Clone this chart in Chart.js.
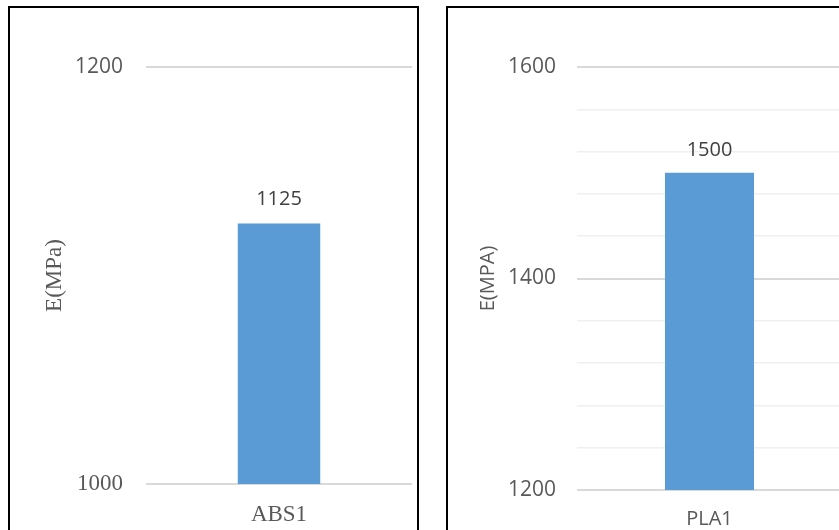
<!DOCTYPE html>
<html>
<head>
<meta charset="utf-8">
<script src="https://cdn.jsdelivr.net/npm/chart.js@4/dist/chart.umd.min.js"></script>
<style>
  html, body { margin: 0; padding: 0; background: #fff; width: 839px; height: 530px; overflow: hidden; }
  .panel { position: absolute; top: 6px; height: 600px; border: 2px solid #000; overflow: hidden; background: #fff; }
  #p1 { left: 8px; width: 407px; }
  #p2 { left: 446px; width: 500px; }
  canvas { position: absolute; left: 0; top: 0; }
</style>
</head>
<body>
<div class="panel" id="p1"><canvas id="absChart" width="407" height="522"></canvas></div>
<div class="panel" id="p2"><canvas id="plaChart" width="400" height="522"></canvas></div>
<script>
// ABS panel
const absLabels = ['ABS1'];
const absValues = [1125];
const absTicks = [1000, 1200];

// PLA panel
const plaLabels = ['PLA1'];
const plaValues = [1500];
const plaTicks = [1200, 1400, 1600];

const sans = 'Open Sans';
const serif = 'Liberation Serif';
const textGrey = '#595959';

// value labels above the bars
const barValues = {
    id: 'barValues',
    afterDatasetsDraw(chart, args, opts) {
        const ctx = chart.ctx;
        ctx.save();
        ctx.font = '20px "' + sans + '"';
        ctx.fillStyle = '#404040';
        ctx.textAlign = 'center';
        ctx.textBaseline = 'middle';
        chart.getDatasetMeta(0).data.forEach((bar, i) => {
            ctx.fillText(String(chart.data.datasets[0].data[i]), bar.x, bar.y - opts.offset);
        });
        ctx.restore();
    }
};

new Chart(document.getElementById('absChart'), {
    type: 'bar',
    data: {
        labels: absLabels,
        datasets: [{ data: absValues, backgroundColor: '#5B9BD5', barPercentage: 0.31, categoryPercentage: 1 }]
    },
    options: {
        responsive: false,
        animation: false,
        layout: { padding: { top: 59, right: 5, bottom: 0, left: 0 } },
        plugins: { legend: { display: false }, tooltip: { enabled: false }, barValues: { offset: 24 } },
        scales: {
            x: {
                grid: { display: false },
                border: { display: false },
                ticks: { color: textGrey, font: { family: serif, size: 23 }, padding: 9 },
                afterFit: s => { s.height = 46; }
            },
            y: {
                min: absTicks[0],
                max: absTicks[absTicks.length - 1],
                afterBuildTicks: s => { s.ticks = absTicks.map(v => ({ value: v })); },
                grid: { color: '#D9D9D9', lineWidth: 2, drawTicks: false },
                border: { display: false },
                ticks: {
                    color: textGrey,
                    padding: 23,
                    callback: v => String(v),
                    font: c => c.index === 0 ? { family: serif, size: 23 } : { family: sans, size: 21 }
                },
                title: { display: true, text: 'E(MPa)', color: textGrey, font: { family: serif, size: 23 }, padding: { top: 31 } },
                afterFit: s => { s.width = 136; }
            }
        }
    },
    plugins: [barValues]
});

new Chart(document.getElementById('plaChart'), {
    type: 'bar',
    data: {
        labels: plaLabels,
        datasets: [{ data: plaValues, backgroundColor: '#5B9BD5', barPercentage: 0.336, categoryPercentage: 1 }]
    },
    options: {
        responsive: false,
        animation: false,
        layout: { padding: { top: 59, right: 6, bottom: 0, left: 0 } },
        plugins: { legend: { display: false }, tooltip: { enabled: false }, barValues: { offset: 22 } },
        scales: {
            x: {
                grid: { display: false },
                border: { display: false },
                ticks: { color: textGrey, font: { family: sans, size: 20 }, padding: 9 },
                afterFit: s => { s.height = 40; }
            },
            y: {
                min: plaTicks[0],
                max: plaTicks[plaTicks.length - 1],
                ticks: {
                    stepSize: 40,
                    autoSkip: false,
                    color: textGrey,
                    padding: 21,
                    font: { family: sans, size: 21 },
                    callback: v => plaTicks.includes(Math.round(v)) ? String(Math.round(v)) : ''
                },
                grid: {
                    drawTicks: false,
                    color: c => plaTicks.includes(Math.round(c.tick.value)) ? '#D9D9D9' : '#F0F0F0',
                    lineWidth: c => plaTicks.includes(Math.round(c.tick.value)) ? 2 : 1.5
                },
                border: { display: false },
                title: { display: true, text: 'E(MPA)', color: textGrey, font: { family: sans, size: 20 }, padding: { top: 28 } },
                afterFit: s => { s.width = 129; }
            }
        }
    },
    plugins: [barValues]
});
</script>
</body>
</html>
